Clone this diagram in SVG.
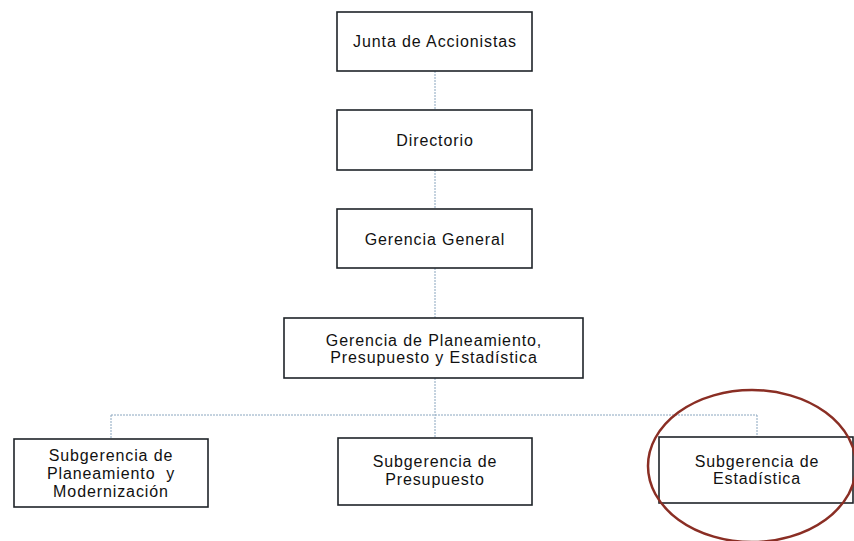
<svg xmlns="http://www.w3.org/2000/svg" width="854" height="541" viewBox="0 0 854 541">
<style>
.box{fill:#ffffff;stroke:#1e2328;stroke-width:1.6}
.lbl{font-family:"Liberation Sans",Arial,sans-serif;font-size:16px;letter-spacing:0.9px;fill:#111;text-anchor:middle}
.conn{fill:none;stroke:#8aa6bf;stroke-width:1;stroke-dasharray:2 1}
</style>
<rect width="854" height="541" fill="#ffffff"/>
<g id="connectors">
<path class="conn" d="M435 71V110M435 170V209M435 268V318M435 378V438M111 415H757M111 415V439M757 415V437"/>
</g>
<g id="junta"><rect class="box" x="337" y="12" width="195" height="59"/><text class="lbl" x="435" y="47">Junta de Accionistas</text></g>
<g id="directorio"><rect class="box" x="337" y="110" width="195" height="60"/><text class="lbl" x="435" y="146">Directorio</text></g>
<g id="gerencia-general"><rect class="box" x="337" y="209" width="195" height="59"/><text class="lbl" x="435" y="245">Gerencia General</text></g>
<g id="gerencia-planeamiento"><rect class="box" x="284" y="318" width="299" height="60"/><text class="lbl" x="434" y="345.5">Gerencia de Planeamiento,</text><text class="lbl" x="434" y="363">Presupuesto y Estadística</text></g>
<g id="sub-planeamiento"><rect class="box" x="14" y="439" width="194" height="68"/><text class="lbl" x="111" y="461" xml:space="preserve">Subgerencia de</text><text class="lbl" x="111" y="479" xml:space="preserve">Planeamiento  y</text><text class="lbl" x="111" y="497">Modernización</text></g>
<g id="sub-presupuesto"><rect class="box" x="338" y="438" width="194" height="67"/><text class="lbl" x="435" y="467">Subgerencia de</text><text class="lbl" x="435" y="485">Presupuesto</text></g>
<g id="sub-estadistica"><rect class="box" x="659" y="437" width="194" height="66"/><text class="lbl" x="757" y="467">Subgerencia de</text><text class="lbl" x="757" y="484">Estadística</text></g>
<ellipse cx="752" cy="466" rx="104" ry="76" fill="none" stroke="#8a2e24" stroke-width="2.5"/>
</svg>
